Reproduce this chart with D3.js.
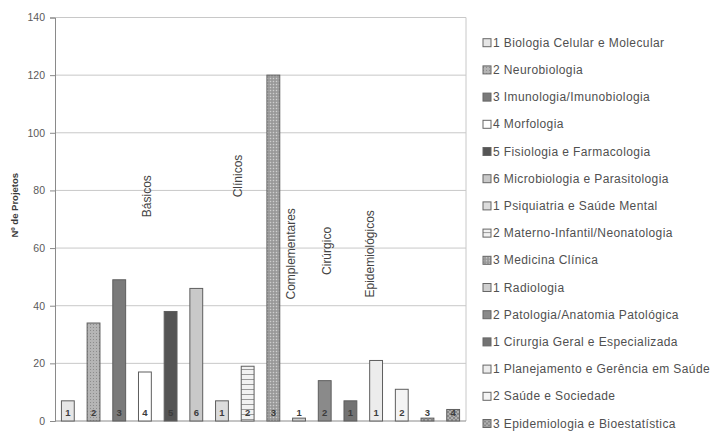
<!DOCTYPE html>
<html>
<head>
<meta charset="utf-8">
<script src="https://cdn.jsdelivr.net/npm/d3@7"></script>
<style>
  html, body { margin: 0; padding: 0; background: #fff; }
  svg { display: block; font-family: "Liberation Sans", Arial, sans-serif; }
</style>
</head>
<body>
<svg id="chart" width="715" height="433"></svg>
<script>
// Projects per area, grouped by block
const barNumbers = ["1", "2", "3", "4", "5", "6", "1", "2", "3", "1", "2", "1", "1", "2", "3", "4"];
const projectCounts = [7, 34, 49, 17, 38, 46, 7, 19, 120, 1, 14, 7, 21, 11, 1, 4];
const legendNames = [
  "1 Biologia Celular e Molecular",
  "2 Neurobiologia",
  "3 Imunologia/Imunobiologia",
  "4 Morfologia",
  "5 Fisiologia e Farmacologia",
  "6 Microbiologia e Parasitologia",
  "1 Psiquiatria e Saúde Mental",
  "2 Materno-Infantil/Neonatologia",
  "3 Medicina Clínica",
  "1 Radiologia",
  "2 Patologia/Anatomia Patológica",
  "1 Cirurgia Geral e Especializada",
  "1 Planejamento e Gerência em Saúde",
  "2 Saúde e Sociedade",
  "3 Epidemiologia e Bioestatística"
];
const groupNames = ["Básicos", "Clínicos", "Complementares", "Cirúrgico", "Epidemiológicos"];
const yTicks = [0, 20, 40, 60, 80, 100, 120, 140];

// Fill per bar (plain colours or pattern ids)
const barFills = [
  "#e6e6e6", "url(#dots)", "#7a7a7a", "#ffffff", "#555555", "#c9c9c9",
  "#dcdcdc", "url(#hstripes)", "url(#dotsDark)", "#cfcfcf", "#8a8a8a",
  "#737373", "#ececec", "#f4f4f4", "url(#cross)", "url(#cross)"
];

const svg = d3.select("#chart");
const defs = svg.append("defs");

// patterns
const pDots = defs.append("pattern").attr("id", "dots").attr("width", 3).attr("height", 3)
  .attr("patternUnits", "userSpaceOnUse");
pDots.append("rect").attr("width", 3).attr("height", 3).attr("fill", "#b5b5b5");
pDots.append("rect").attr("width", 1).attr("height", 1).attr("fill", "#8c8c8c");

const pDotsDark = defs.append("pattern").attr("id", "dotsDark").attr("width", 3).attr("height", 3)
  .attr("patternUnits", "userSpaceOnUse");
pDotsDark.append("rect").attr("width", 3).attr("height", 3).attr("fill", "#a3a3a3");
pDotsDark.append("rect").attr("width", 1).attr("height", 1).attr("fill", "#cfcfcf");
pDotsDark.append("rect").attr("x", 1.5).attr("y", 1.5).attr("width", 1).attr("height", 1).attr("fill", "#7d7d7d");

const pStripes = defs.append("pattern").attr("id", "hstripes").attr("width", 4).attr("height", 5)
  .attr("patternUnits", "userSpaceOnUse");
pStripes.append("rect").attr("width", 4).attr("height", 5).attr("fill", "#f2f2f2");
pStripes.append("rect").attr("y", 4).attr("width", 4).attr("height", 1).attr("fill", "#9a9a9a");

const pCross = defs.append("pattern").attr("id", "cross").attr("width", 4).attr("height", 4)
  .attr("patternUnits", "userSpaceOnUse");
pCross.append("rect").attr("width", 4).attr("height", 4).attr("fill", "#b0b0b0");
pCross.append("path").attr("d", "M0,0L4,4M4,0L0,4").attr("stroke", "#7f7f7f").attr("stroke-width", 0.8);

// plot area
const plot = { left: 55, right: 466, top: 17.5, bottom: 421 };

const x = d3.scaleBand()
  .domain(d3.range(projectCounts.length))
  .range([plot.left, plot.right])
  .paddingInner(0.5)
  .paddingOuter(0.25);

const y = d3.scaleLinear().domain([0, 140]).range([plot.bottom, plot.top]);

// gridlines
svg.append("g").selectAll("line").data(yTicks.filter(t => t > 0)).join("line")
  .attr("x1", plot.left).attr("x2", plot.right)
  .attr("y1", d => y(d)).attr("y2", d => y(d))
  .attr("stroke", "#c8c8c8").attr("stroke-width", 1);

// right border of plot area
svg.append("line")
  .attr("x1", plot.right).attr("x2", plot.right)
  .attr("y1", y(140)).attr("y2", plot.bottom)
  .attr("stroke", "#c8c8c8");

// y axis
const yAxis = svg.append("g")
  .attr("transform", `translate(${plot.left},0)`)
  .call(d3.axisLeft(y).tickValues(yTicks).tickSize(5).tickPadding(5));
yAxis.select(".domain").attr("stroke", "#8a8a8a");
yAxis.selectAll(".tick line").attr("stroke", "#8a8a8a");
yAxis.selectAll(".tick text")
  .attr("fill", "#5a5a5a").attr("font-size", 10.5)
  .attr("font-family", "Liberation Sans, Arial, sans-serif");

// x axis baseline
svg.append("line")
  .attr("x1", plot.left).attr("x2", plot.right)
  .attr("y1", plot.bottom).attr("y2", plot.bottom)
  .attr("stroke", "#8a8a8a");

// axis title
svg.append("text")
  .attr("transform", `translate(14,${(y(140) + y(0)) / 2 - 14}) rotate(-90)`)
  .attr("text-anchor", "middle")
  .attr("dominant-baseline", "central")
  .attr("font-size", 9.5).attr("font-weight", "bold").attr("fill", "#3a3a3a")
  .text("Nº de Projetos");

// bars
svg.append("g").selectAll("rect").data(projectCounts).join("rect")
  .attr("x", (d, i) => x(i))
  .attr("width", x.bandwidth())
  .attr("y", d => y(d))
  .attr("height", d => y(0) - y(d))
  .attr("fill", (d, i) => barFills[i])
  .attr("stroke", "#5e5e5e").attr("stroke-width", 1);

// numbers at the foot of each bar
svg.append("g").selectAll("text").data(barNumbers).join("text")
  .attr("x", (d, i) => x(i) + x.bandwidth() / 2)
  .attr("y", y(0) - 5)
  .attr("text-anchor", "middle")
  .attr("font-size", 9.5).attr("font-weight", "bold").attr("fill", "#3c3c3c")
  .text(d => d);

// block titles, written vertically above their bars
const groupAnchors = [
  { bar: 3, dx: 2, value: 78 },
  { bar: 6, dx: 16, value: 85 },
  { bar: 8, dx: 18, value: 58 },
  { bar: 10, dx: 2, value: 59 },
  { bar: 12, dx: -6, value: 58 }
];
svg.append("g").selectAll("text").data(groupNames).join("text")
  .attr("transform", (d, i) => {
    const a = groupAnchors[i];
    const cx = x(a.bar) + x.bandwidth() / 2 + a.dx;
    return `translate(${cx},${y(a.value)}) rotate(-90)`;
  })
  .attr("text-anchor", "middle")
  .attr("dominant-baseline", "central")
  .attr("font-size", 12).attr("fill", "#444")
  .text(d => d);

// legend
const legend = svg.append("g").attr("transform", "translate(483,0)");
const rowY = d3.scaleLinear().domain([0, legendNames.length - 1]).range([42.7, 423.5]);
const item = legend.selectAll("g").data(legendNames).join("g")
  .attr("transform", (d, i) => `translate(0,${rowY(i)})`);
item.append("rect")
  .attr("x", 0).attr("y", -4).attr("width", 8).attr("height", 8)
  .attr("fill", (d, i) => barFills[i])
  .attr("stroke", "#666").attr("stroke-width", 1);
item.append("text")
  .attr("x", 10).attr("y", 0)
  .attr("dominant-baseline", "central")
  .attr("font-size", 12).attr("letter-spacing", 0.4).attr("fill", "#505050")
  .text(d => d);
</script>
</body>
</html>
